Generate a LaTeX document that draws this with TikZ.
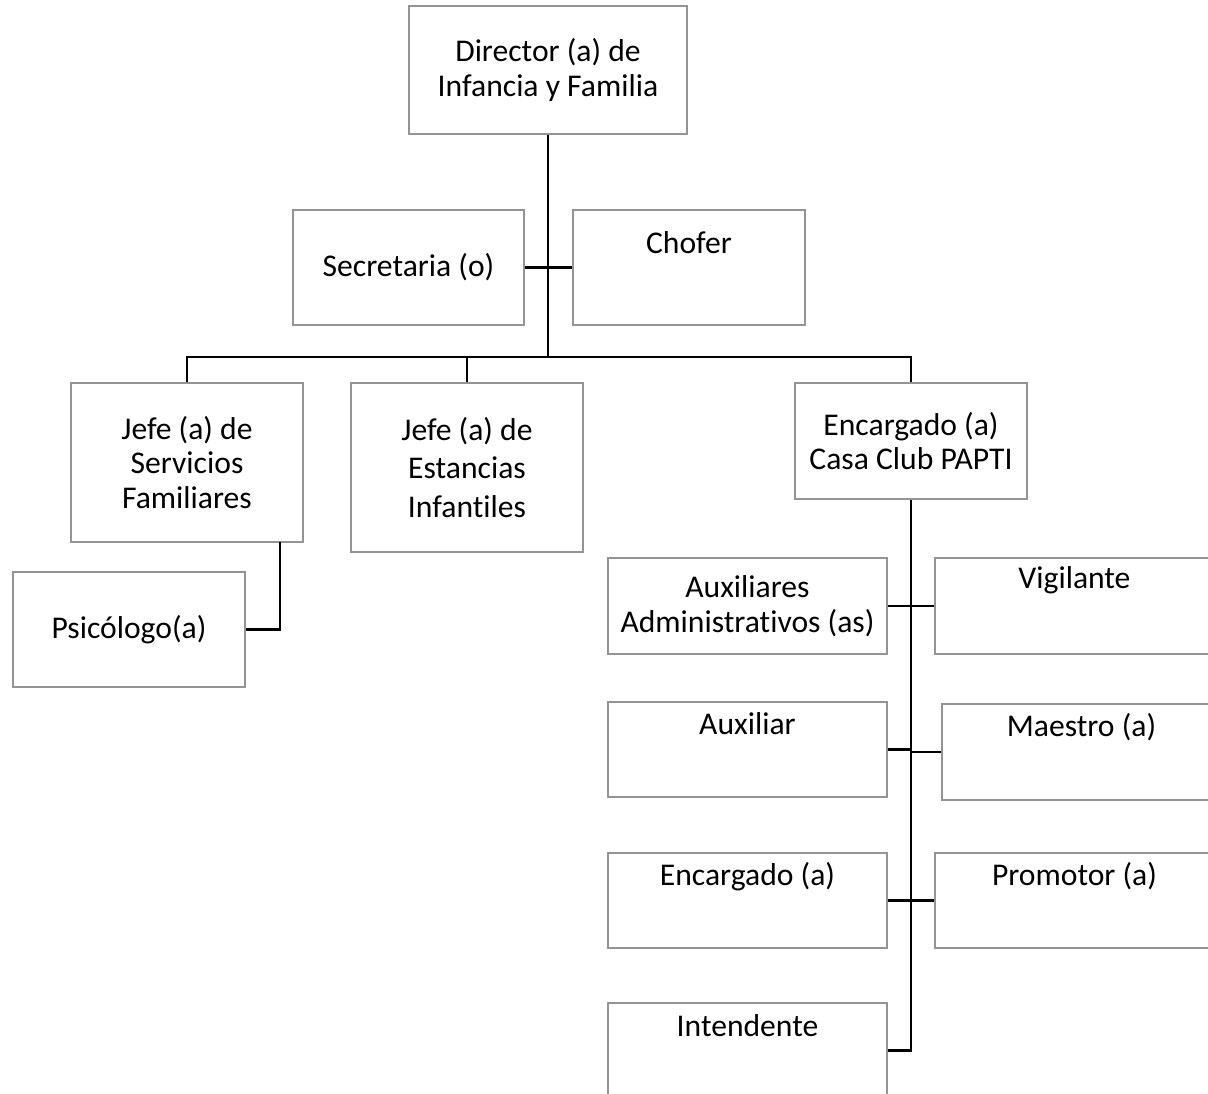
\documentclass[tikz,border=0pt]{standalone}
\usepackage{fontspec}
\setmainfont{Carlito}[Ligatures=NoCommon]
\begin{document}
\begin{tikzpicture}[x=0.02cm, y=-0.02cm, font=\fontsize{18}{19.8}\selectfont,
    box/.style={rectangle, draw=black!42, line width=0.7pt, align=center, inner sep=0pt},
    link/.style={line width=1.45pt}]

        \useasboundingbox (0,0) rectangle (1208,1094);
        \clip (0,0) rectangle (1208,1094);

        % boxes
        \begin{scope}[every node/.append style={box}]
          \node[minimum width=5.56cm, minimum height=2.56cm] (dir) at (548,70) {Director (a) de\\Infancia y Familia};
          \node[minimum width=4.62cm, minimum height=2.30cm] (sec) at (408.5,267.5) {Secretaria (o)};
          \node[minimum width=4.64cm, minimum height=2.30cm,
                label={[draw=none, anchor=center, yshift=-0.66cm]north:Chofer}] (cho) at (689,267.5) {};
          \node[minimum width=4.64cm, minimum height=3.18cm] (serv) at (187,462.5) {Jefe (a) de\\Servicios\\Familiares};
          \node[minimum width=4.64cm, minimum height=3.38cm, font=\fontsize{18}{22}\selectfont] (est) at (467,467.5) {Jefe (a) de\\Estancias\\Infantiles};
          \node[minimum width=4.64cm, minimum height=2.32cm] (club) at (911,441) {Encargado (a)\\Casa Club PAPTI};
          \node[minimum width=4.64cm, minimum height=2.30cm] (psi) at (129,629.5) {Psicólogo(a)};
          \node[minimum width=5.58cm, minimum height=1.92cm] (adm) at (747.5,606) {Auxiliares\\Administrativos (as)};
          \node[minimum width=5.58cm, minimum height=1.92cm,
                label={[draw=none, anchor=center, yshift=-0.46cm]north:Vigilante}] (vig) at (1074.5,606) {};
          \node[minimum width=5.58cm, minimum height=1.90cm,
                label={[draw=none, anchor=center, yshift=-0.44cm]north:Auxiliar}] (aux) at (747.5,749.5) {};
          \node[minimum width=5.58cm, minimum height=1.92cm,
                label={[draw=none, anchor=center, yshift=-0.48cm]north:Maestro (a)}] (mae) at (1081.5,752) {};
          \node[minimum width=5.58cm, minimum height=1.90cm,
                label={[draw=none, anchor=center, yshift=-0.48cm]north:Encargado (a)}] (enc) at (747.5,900.5) {};
          \node[minimum width=5.58cm, minimum height=1.90cm,
                label={[draw=none, anchor=center, yshift=-0.48cm]north:Promotor (a)}] (pro) at (1074.5,900.5) {};
          \node[minimum width=5.58cm, minimum height=1.90cm,
                label={[draw=none, anchor=center, yshift=-0.46cm]north:Intendente}] (int) at (747.5,1050.5) {};
        \end{scope}

        \coordinate (bar) at (548,357);
        \coordinate (servlink) at (280,542);

        % connectors
        \begin{scope}[every path/.style={link}]
          \draw (dir.south) -- (bar);
          \draw (sec.east) -- (cho.west);
          \draw (serv.north) |- (bar) -| (club.north);
          \draw (bar) -| (est.north);
          \draw (servlink) |- (psi.east);
          \draw (club.south) |- (int.east);
          \draw (adm.east) -- (vig.west);
          \draw (aux.east) -- (aux.east -| club.south);
          \draw (mae.west) -- (mae.west -| club.south);
          \draw (enc.east) -- (pro.west);
        \end{scope}

      \end{tikzpicture}
\end{document}
